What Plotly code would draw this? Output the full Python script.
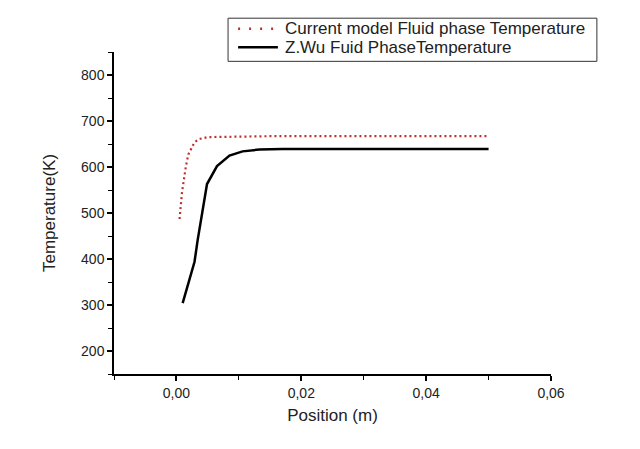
import plotly.graph_objects as go

# Current model (red dotted)
model_x = [0.0005, 0.00075, 0.0009, 0.0015, 0.0019, 0.0029, 0.0037, 0.005, 0.008, 0.015, 0.03, 0.05]
model_t = [487, 516, 546, 600, 627, 654, 661, 665, 666, 667, 667, 667]

# Z.Wu reference (black solid)
wu_x = [0.001, 0.0029, 0.0034, 0.0049, 0.0065, 0.0085, 0.0106, 0.0133, 0.017, 0.03, 0.05]
wu_t = [304, 394, 441, 563, 602, 625, 634, 638, 639, 639, 639]

series_names = ["Current model Fluid phase Temperature", "Z.Wu Fuid PhaseTemperature"]
x_ticks = [0.0, 0.02, 0.04, 0.06]
y_ticks = [200, 300, 400, 500, 600, 700, 800]

RED = "#c0302a"
TXT = "#222222"

fig = go.Figure()

fig.add_trace(go.Scatter(
    x=model_x, y=model_t, mode="lines", name=series_names[0],
    line=dict(color=RED, width=2.2, dash="2px,3px"),
))
fig.add_trace(go.Scatter(
    x=wu_x, y=wu_t, mode="lines", name=series_names[1],
    line=dict(color="black", width=2.5),
))

axis_common = dict(
    showline=True, linecolor="black", linewidth=1.5,
    ticks="outside", ticklen=5, tickwidth=1.5, tickcolor="black",
    showgrid=False, zeroline=False, mirror=False,
    tickfont=dict(size=14, color=TXT),
)

fig.update_xaxes(
    range=[-0.01, 0.06], tickvals=x_ticks, tickformat=".2f",
    minor=dict(ticks="outside", ticklen=4, tickwidth=1.2, tickcolor="black", dtick=0.01),
    title=dict(text="Position (m)", font=dict(size=17, color=TXT), standoff=10),
    **axis_common,
)
fig.update_yaxes(
    range=[150, 850], tickvals=y_ticks,
    minor=dict(ticks="outside", ticklen=4, tickwidth=1.2, tickcolor="black", dtick=50),
    title=dict(text="Temperature(K)", font=dict(size=17, color=TXT), standoff=21),
    **axis_common,
)

# legend drawn by hand so the box matches the reference's compact layout
legend_box = dict(x0=0.261, x1=1.105, y0=0.971, y1=1.105)
row_y = [1.072, 1.015]
sample_x = [0.284, 0.375]
text_x = 0.387

fig.add_shape(type="rect", xref="paper", yref="paper", **legend_box,
              line=dict(color="#333", width=1), fillcolor="white", layer="above")
sample_styles = [dict(color=RED, width=2.5, dash="2px,9px"), dict(color="black", width=2.5)]
for name, y, style in zip(series_names, row_y, sample_styles):
    fig.add_shape(type="line", xref="paper", yref="paper",
                  x0=sample_x[0], x1=sample_x[1], y0=y, y1=y, line=style, layer="above")
    fig.add_annotation(text=name, xref="paper", yref="paper", x=text_x, y=y,
                       xanchor="left", yanchor="middle", showarrow=False,
                       font=dict(size=17, color=TXT))

fig.update_layout(
    width=640, height=449,
    margin=dict(l=106, r=97, t=44, b=83),
    plot_bgcolor="white", paper_bgcolor="white",
    separators=",.",
    showlegend=False,
    font=dict(family="Liberation Sans, Arial, sans-serif", color=TXT),
)

fig.write_html("out.html")
